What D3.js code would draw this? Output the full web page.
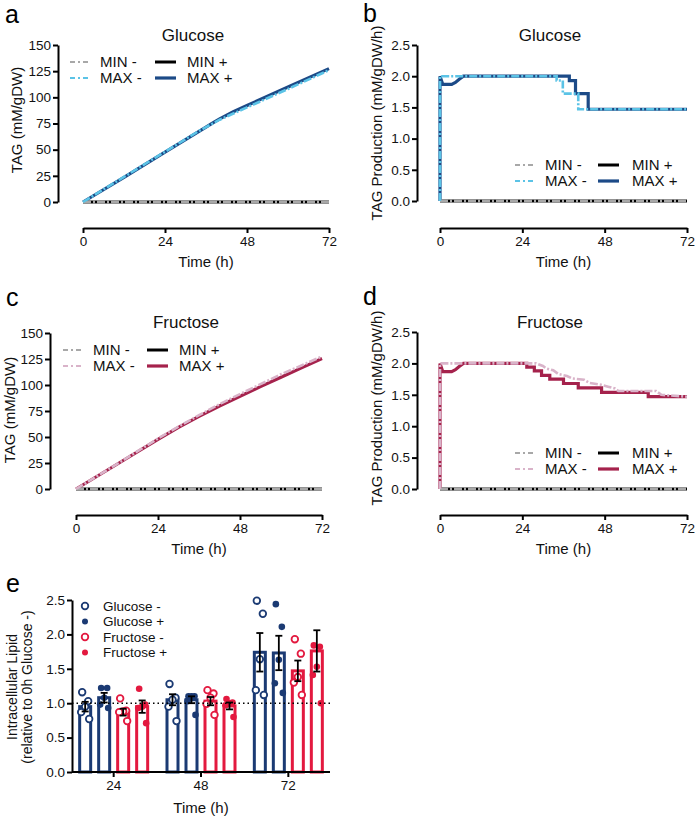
<!DOCTYPE html>
<html><head><meta charset="utf-8">
<script src="https://cdn.jsdelivr.net/npm/d3@7"></script>
<style>
body{margin:0;background:#fff;}
svg{display:block;font-family:"Liberation Sans",Arial,sans-serif;}
</style></head>
<body><svg id="c" width="697" height="820"></svg>
<script>
// ---------- DATA ----------
const timeTicks = [0, 24, 48, 72];
const tagTicks = [0, 25, 50, 75, 100, 125, 150];
const rateTicks = [0, 0.5, 1.0, 1.5, 2.0, 2.5];
const legendLabels = ["MIN -", "MAX -", "MIN +", "MAX +"];

// Panel a: Glucose cumulative TAG (t, mM/gDW)
const gluMinMinus = [[0,0],[72,0]];
const gluMinPlus  = [[0,0],[72,0]];
const gluMaxMinus = [[0,0],[12,24],[24,48],[34,68],[36,71.5],[40,78.6],[44,84.5],[48,90.4],[60,108],[72,126]];
const gluMaxPlus  = [[0,0],[12,23.6],[24,47.6],[36,71.6],[38,75.6],[40,79.4],[44,86.3],[48,92.2],[60,109.8],[72,127.4]];

// Panel b: Glucose TAG production rate
const gluRateMinMinus = [[0,0],[72,0]];
const gluRateMinPlus  = [[0,0],[72,0]];
const gluRateMaxMinus = [[0,0],[0,2.0],[34,2.0],[34,1.93],[35.8,1.93],[35.8,1.72],[40.3,1.72],[40.3,1.47],[72,1.47]];
const gluRateMaxPlus  = [[0,0],[0,2.0],[0.8,1.87],[3.4,1.87],[4.5,1.9],[5.6,1.95],[6.8,2.0],[37.7,2.0],[37.7,1.93],[39.5,1.93],[39.5,1.72],[43.2,1.72],[43.2,1.47],[72,1.47]];

// Panel c: Fructose cumulative TAG
const fruMinMinus = [[0,0],[72,0]];
const fruMinPlus  = [[0,0],[72,0]];
const fruMaxMinus = [[0,0],[12,24],[24,48.5],[30,60],[36,71],[42,81.5],[48,91.3],[54,100.8],[60,110.3],[66,118.8],[72,127.5]];
const fruMaxPlus  = [[0,0],[12,23.8],[24,47.8],[30,59.3],[36,69.8],[42,79.8],[48,89.2],[54,98.4],[60,107.5],[66,116.5],[72,125.5]];

// Panel d: Fructose TAG production rate
const fruRateMinMinus = [[0,0],[72,0]];
const fruRateMinPlus  = [[0,0],[72,0]];
const fruRateMaxMinus = [[0,0],[0,2.0],[28,2.0],[30,1.96],[31,1.92],[33,1.89],[34.5,1.83],[37,1.8],[38.5,1.76],[42,1.74],[43.5,1.69],[47,1.66],[49,1.63],[51,1.6],[52,1.56],[63,1.56],[64.5,1.5],[72,1.47]];
const fruRateMaxPlus  = [[0,0],[0,2.0],[0.8,1.87],[3.4,1.87],[4.5,1.9],[5.6,1.95],[6.8,2.0],[25.3,2.0],[25.3,1.94],[27.5,1.94],[27.5,1.88],[29.6,1.88],[29.6,1.81],[32,1.81],[32,1.75],[36,1.75],[36,1.68],[40.3,1.68],[40.3,1.61],[47.1,1.61],[47.1,1.54],[60.7,1.54],[60.7,1.47],[72,1.47]];

// Panel e: intracellular lipid
const lipidTimes = ["24", "48", "72"];
const lipidGroups = ["Glucose -", "Glucose +", "Fructose -", "Fructose +"];
const lipidTicks = [0, 0.5, 1.0, 1.5, 2.0, 2.5];
const meanGluMinus = [0.95, 1.05, 1.74];
const meanGluPlus  = [1.08, 1.05, 1.73];
const meanFruMinus = [0.87, 1.03, 1.47];
const meanFruPlus  = [0.95, 0.96, 1.76];
const semGluMinus = [0.07, 0.08, 0.28];
const semGluPlus  = [0.07, 0.05, 0.25];
const semFruMinus = [0.05, 0.06, 0.15];
const semFruPlus  = [0.09, 0.05, 0.30];
const dotsGluMinus = [[1.16,1.03,0.95,0.87,0.77],[1.28,1.08,1.05,0.95,0.74],[2.49,2.30,1.64,1.19,1.12]];
const dotsGluPlus  = [[1.22,1.22,1.08,0.98,0.93],[1.10,1.10,1.10,1.03,0.83],[2.44,2.11,1.63,1.29,1.15]];
const dotsFruMinus = [[1.07,0.89,0.88,0.87,0.74],[1.19,1.14,1.08,0.99,0.83],[1.93,1.72,1.38,1.30,1.12]];
const dotsFruPlus  = [[1.21,0.98,0.95,0.93,0.71],[1.06,1.01,1.00,0.97,0.80],[1.84,1.82,1.53,1.41,1.00]];

// ---------- DRAW ----------
const svg = d3.select("#c");
const FONT = '"Liberation Sans",Arial,sans-serif';

function letter(x, y, t) {
  svg.append("text").attr("x", x).attr("y", y).attr("font-size", 25).attr("fill", "#000").text(t);
}

function linePanel(cfg) {
  const g = svg.append("g");
  const x = d3.scaleLinear().domain([0, 72]).range([cfg.x0, cfg.x1]);
  const y = d3.scaleLinear().domain(cfg.yDomain).range([cfg.yBottom, cfg.yTop]);

  const ya = g.append("g").attr("transform", `translate(${cfg.yAxisX},0)`)
    .call(d3.axisLeft(y).tickValues(cfg.yTicks).tickFormat(cfg.yFmt).tickSize(5).tickSizeOuter(0));
  const xa = g.append("g").attr("transform", `translate(0,${cfg.xAxisY})`)
    .call(d3.axisBottom(x).tickValues(timeTicks).tickSize(5).tickSizeOuter(0));
  [ya, xa].forEach(a => {
    a.select(".domain").attr("stroke", "#000").attr("stroke-width", 2);
    a.selectAll(".tick line").attr("stroke", "#000").attr("stroke-width", 2);
    a.selectAll(".tick text").attr("font-size", 13.5).attr("font-family", FONT).attr("fill", "#111");
  });
  ya.selectAll(".tick text").attr("x", -7);
  xa.selectAll(".tick text").attr("y", 8);

  const line = d3.line().x(d => x(d[0])).y(d => y(d[1]));
  const [minM, maxM, minP, maxP] = cfg.series;
  g.append("path").datum(minP).attr("d", line).attr("fill", "none").attr("stroke", "#000").attr("stroke-width", 3);
  g.append("path").datum(maxP).attr("d", line).attr("fill", "none").attr("stroke", cfg.maxPlusColor).attr("stroke-width", 3.2);
  g.append("path").datum(minM).attr("d", line).attr("fill", "none").attr("stroke", "#a8a8a8").attr("stroke-width", 3).attr("stroke-dasharray", "8,2,2,2");
  g.append("path").datum(maxM).attr("d", line).attr("fill", "none").attr("stroke", cfg.maxMinusColor).attr("stroke-width", 2.6).attr("stroke-dasharray", "8,2,2,2");

  g.append("text").attr("x", cfg.titleX).attr("y", cfg.titleY).attr("text-anchor", "middle")
    .attr("font-size", 17).attr("fill", "#111").text(cfg.title);
  g.append("text").attr("transform", `translate(${cfg.yLabX},${cfg.yLabY}) rotate(-90)`)
    .attr("text-anchor", "middle").attr("font-size", 15).attr("fill", "#111").text(cfg.yLabel);
  g.append("text").attr("x", (cfg.x0 + cfg.x1) / 2).attr("y", cfg.xAxisY + 39).attr("text-anchor", "middle")
    .attr("font-size", 15).attr("fill", "#111").text("Time (h)");

  const styles = [
    {c: "#a8a8a8", w: 2, dash: "5,3,2,3"},
    {c: cfg.maxMinusColor, w: 2, dash: "5,3,2,3"},
    {c: "#000", w: 3, dash: null},
    {c: cfg.maxPlusColor, w: 3.2, dash: null}
  ];
  legendLabels.forEach((lab, i) => {
    const col = Math.floor(i / 2), row = i % 2;
    const sx = cfg.legX[col], sy = cfg.legY + row * 16;
    const ln = g.append("line").attr("x1", sx).attr("x2", sx + 21).attr("y1", sy).attr("y2", sy)
      .attr("stroke", styles[i].c).attr("stroke-width", styles[i].w);
    if (styles[i].dash) ln.attr("stroke-dasharray", styles[i].dash);
    g.append("text").attr("x", sx + cfg.legGap[col]).attr("y", sy + 5).attr("font-size", 15).attr("fill", "#111").text(lab);
  });
}

const blueDark = "#1c4a87", blueLight = "#5bc3e6";
const crimson = "#a5224c", pink = "#d9b3c9";

linePanel({x0: 83, x1: 329, xAxisY: 228, yTop: 45, yBottom: 202, yAxisX: 58,
  yDomain: [0, 150], yTicks: tagTicks, yFmt: d3.format("d"),
  series: [gluMinMinus, gluMaxMinus, gluMinPlus, gluMaxPlus],
  maxPlusColor: blueDark, maxMinusColor: blueLight,
  title: "Glucose", titleX: 193, titleY: 41, yLabel: "TAG (mM/gDW)", yLabX: 22, yLabY: 120,
  legX: [70, 155], legGap: [30, 32], legY: 62});

linePanel({x0: 440, x1: 687, xAxisY: 228, yTop: 45, yBottom: 201, yAxisX: 417,
  yDomain: [0, 2.5], yTicks: rateTicks, yFmt: d3.format(".1f"),
  series: [gluRateMinMinus, gluRateMaxMinus, gluRateMinPlus, gluRateMaxPlus],
  maxPlusColor: blueDark, maxMinusColor: blueLight,
  title: "Glucose", titleX: 550, titleY: 41, yLabel: "TAG Production (mM/gDW/h)", yLabX: 382, yLabY: 123,
  legX: [515, 598], legGap: [30, 34], legY: 165});

linePanel({x0: 76, x1: 322, xAxisY: 515, yTop: 333, yBottom: 489, yAxisX: 50,
  yDomain: [0, 150], yTicks: tagTicks, yFmt: d3.format("d"),
  series: [fruMinMinus, fruMaxMinus, fruMinPlus, fruMaxPlus],
  maxPlusColor: crimson, maxMinusColor: pink,
  title: "Fructose", titleX: 186, titleY: 328, yLabel: "TAG (mM/gDW)", yLabX: 15, yLabY: 410,
  legX: [63, 147], legGap: [30, 32], legY: 350});

linePanel({x0: 440, x1: 687, xAxisY: 515, yTop: 332, yBottom: 489, yAxisX: 417,
  yDomain: [0, 2.5], yTicks: rateTicks, yFmt: d3.format(".1f"),
  series: [fruRateMinMinus, fruRateMaxMinus, fruRateMinPlus, fruRateMaxPlus],
  maxPlusColor: crimson, maxMinusColor: pink,
  title: "Fructose", titleX: 550, titleY: 328, yLabel: "TAG Production (mM/gDW/h)", yLabX: 382, yLabY: 408,
  legX: [515, 598], legGap: [30, 34], legY: 453});

letter(5, 23, "a"); letter(363, 22, "b"); letter(6, 306, "c"); letter(363, 305, "d"); letter(6, 592, "e");

// ---------- Panel e ----------
(function () {
  const navy = "#1b3a73", red = "#e3193f";
  const g = svg.append("g");
  const x0 = d3.scaleBand().domain(lipidTimes).range([70, 332]);
  const x1 = d3.scaleBand().domain(lipidGroups).range([-38, 38]);
  const y = d3.scaleLinear().domain([0, 2.5]).range([772, 600]);
  const colors = [navy, navy, red, red];
  const hollow = [true, false, true, false];
  const means = [meanGluMinus, meanGluPlus, meanFruMinus, meanFruPlus];
  const sems = [semGluMinus, semGluPlus, semFruMinus, semFruPlus];
  const dots = [dotsGluMinus, dotsGluPlus, dotsFruMinus, dotsFruPlus];
  const jitter = [-3, 3, 0, -4, 4];
  const bw = 11;

  lipidTimes.forEach((t, ti) => {
    lipidGroups.forEach((gr, gi) => {
      const cx = x0(t) + x0.bandwidth() / 2 + x1(gr) + x1.bandwidth() / 2;
      const m = means[gi][ti], s = sems[gi][ti];
      g.append("rect").attr("x", cx - bw / 2).attr("y", y(m)).attr("width", bw).attr("height", y(0) - y(m))
        .attr("fill", "#fff").attr("stroke", colors[gi]).attr("stroke-width", 3);
      dots[gi][ti].forEach((v, k) => {
        const c = g.append("circle").attr("cx", cx + jitter[k]).attr("cy", y(v));
        if (hollow[gi]) c.attr("r", 3.3).attr("fill", "#fff").attr("stroke", colors[gi]).attr("stroke-width", 1.8);
        else c.attr("r", 3.3).attr("fill", colors[gi]);
      });
      const eg = g.append("g").attr("stroke", "#000").attr("stroke-width", 1.8);
      eg.append("line").attr("x1", cx).attr("x2", cx).attr("y1", y(m - s)).attr("y2", y(m + s));
      eg.append("line").attr("x1", cx - 3.5).attr("x2", cx + 3.5).attr("y1", y(m - s)).attr("y2", y(m - s));
      eg.append("line").attr("x1", cx - 3.5).attr("x2", cx + 3.5).attr("y1", y(m + s)).attr("y2", y(m + s));
    });
  });

  g.append("line").attr("x1", 72).attr("x2", 330).attr("y1", y(1)).attr("y2", y(1))
    .attr("stroke", "#000").attr("stroke-width", 1.5).attr("stroke-dasharray", "1.5,3");

  const ya = g.append("g").attr("transform", "translate(72,0)")
    .call(d3.axisLeft(y).tickValues(lipidTicks).tickFormat(d3.format(".1f")).tickSize(5).tickSizeOuter(0));
  const xa = g.append("g").attr("transform", "translate(0,772)")
    .call(d3.axisBottom(x0).tickSize(5).tickSizeOuter(0));
  xa.select(".domain").attr("d", "M72,0H330");
  [ya, xa].forEach(a => {
    a.select(".domain").attr("stroke", "#000").attr("stroke-width", 2);
    a.selectAll(".tick line").attr("stroke", "#000").attr("stroke-width", 2);
    a.selectAll(".tick text").attr("font-size", 13.5).attr("font-family", FONT).attr("fill", "#111");
  });
  ya.selectAll(".tick text").attr("x", -7);
  xa.selectAll(".tick text").attr("y", 8);

  g.append("text").attr("x", 201).attr("y", 813).attr("text-anchor", "middle").attr("font-size", 15)
    .attr("fill", "#111").text("Time (h)");
  const yl = g.append("text").attr("transform", "translate(0,687) rotate(-90)").attr("text-anchor", "middle")
    .attr("font-size", 14).attr("fill", "#111");
  yl.append("tspan").attr("x", 0).attr("y", 17).text("Intracellular Lipid");
  yl.append("tspan").attr("x", 0).attr("y", 32).text("(relative to 0h Glucose -)");

  lipidGroups.forEach((gr, i) => {
    const ly = 606 + i * 15.5;
    const c = g.append("circle").attr("cx", 85).attr("cy", ly);
    if (hollow[i]) c.attr("r", 3.3).attr("fill", "#fff").attr("stroke", colors[i]).attr("stroke-width", 1.8);
    else c.attr("r", 3).attr("fill", colors[i]);
    g.append("text").attr("x", 103).attr("y", ly + 4.5).attr("font-size", 13.5).attr("fill", "#111").text(gr);
  });
})();
</script></body></html>
